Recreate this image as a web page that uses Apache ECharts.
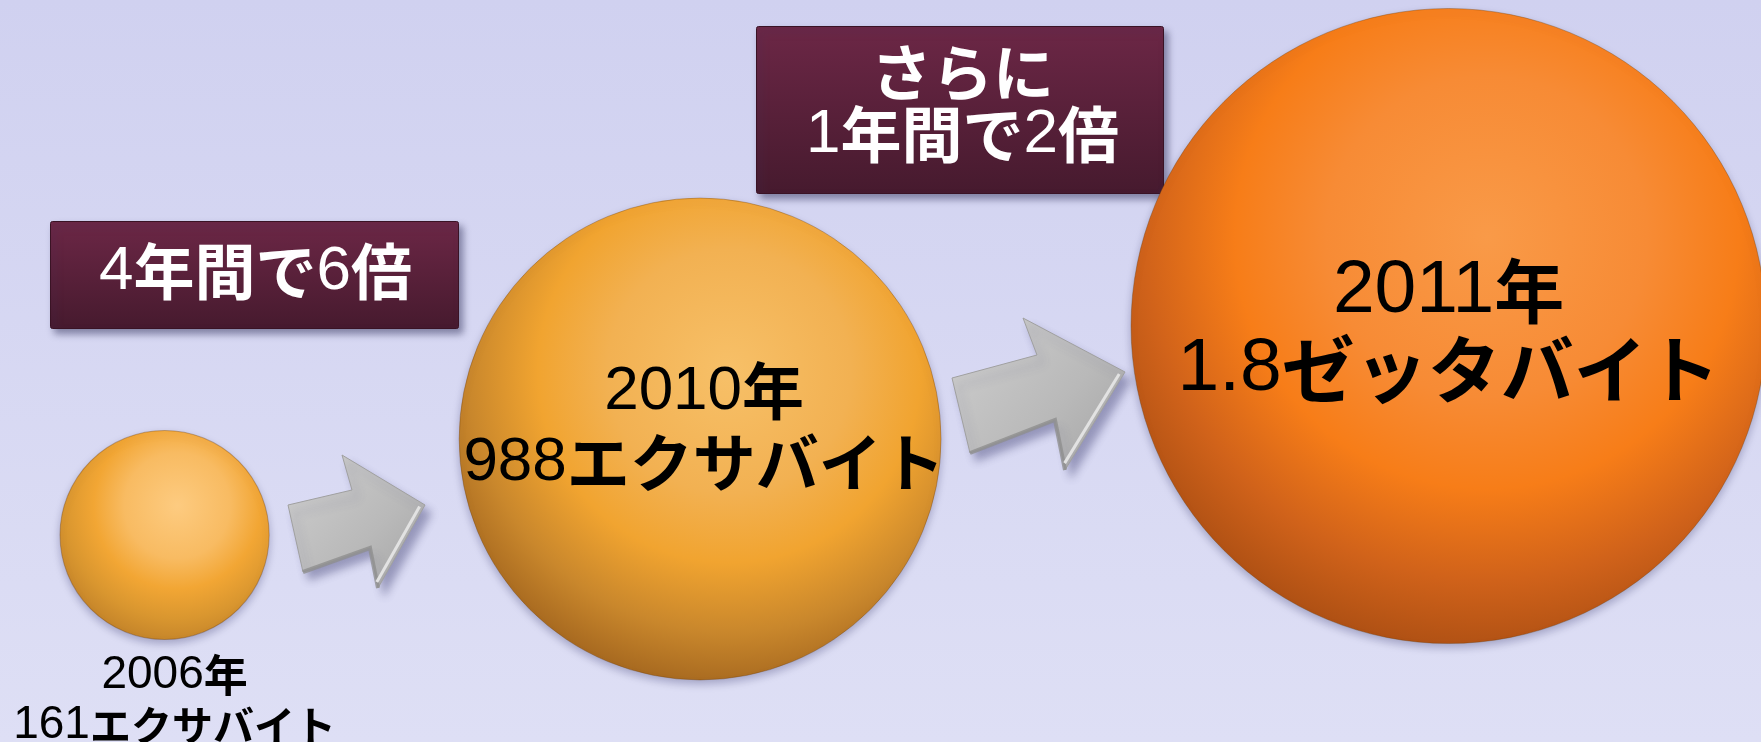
<!DOCTYPE html>
<html>
<head>
<meta charset="utf-8">
<script src="https://cdn.jsdelivr.net/npm/echarts@6/dist/echarts.min.js"></script>
<style>
  html, body { margin: 0; padding: 0; width: 1761px; height: 742px; overflow: hidden; }
  #chart { width: 1761px; height: 742px; }
</style>
</head>
<body>
<div id="chart"></div>
<script>
// Growth of the world's digital information volume
const years = ['2006', '2010', '2011'];
const volumes = [161, 988, 1800];                 // exabytes
const volumeText = ['161', '988', '1.8'];
const unitText = ['エクサバイト', 'エクサバイト', 'ゼッタバイト'];
const growthNotes = ['4年間で6倍', 'さらに\n1年間で2倍'];

const W = 1761, H = 742;
const NUM_FONT = "'Liberation Sans', Arial, sans-serif";
const JP_FONT = "'Noto Sans CJK JP', sans-serif";

// bubble diameter grows with volume (power scale)
const diameter = v => 20.2 * Math.pow(v, 0.46);

// bubbles sit in a row, separated by a fixed gap that holds the arrows
const firstLeft = 60, bubbleGap = 190;
const bubbleCenterY = [535, 439, 326];
const centerX = [];
(function () {
  let left = firstLeft;
  volumes.forEach(v => {
    const d = diameter(v);
    centerX.push(left + d / 2);
    left += d + bubbleGap;
  });
})();

const sphereStops = [
  ['#fdcb80', '#f8bb62', '#f2a634', '#d9962f', '#c5852a', '#b77a28'],
  ['#f7c068', '#f2b152', '#f1a430', '#c9872c', '#a86a20', '#985c1b'],
  ['#f99a48', '#f78b35', '#f77d18', '#d0621a', '#b05114', '#9e4710']
];
const stopOffsets = [0, 0.35, 0.55, 0.75, 0.9, 1];
const sphereFill = i => new echarts.graphic.RadialGradient(0.56, 0.36, 0.72,
  stopOffsets.map((o, k) => ({ offset: o, color: sphereStops[i][k] })));

// text styles for the three bubble labels
const labelStyles = [
  { num: 46, year: 44, kana: 41, lh: 50, position: 'bottom', distance: 10, offset: [10, 0] },
  { num: 62, year: 62, kana: 63, lh: 71, position: 'inside', distance: 0, offset: [4, -12] },
  { num: 75, year: 70, kana: 73, lh: 78, position: 'inside', distance: 0, offset: [0, 4] }
];

function bubbleLabel(i) {
  const s = labelStyles[i];
  return {
    show: true,
    position: s.position,
    distance: s.distance,
    offset: s.offset,
    align: 'center',
    formatter: '{n|' + years[i] + '}{y|年}\n{n|' + volumeText[i] + '}{k|' + unitText[i] + '}',
    rich: {
      n: { fontFamily: NUM_FONT, fontSize: s.num, color: '#000', lineHeight: s.lh },
      y: { fontFamily: JP_FONT, fontWeight: 'bold', fontSize: s.year, color: '#000', lineHeight: s.lh },
      k: { fontFamily: JP_FONT, fontWeight: 'bold', fontSize: s.kana, color: '#000', lineHeight: s.lh }
    }
  };
}

// wrap digit runs and Japanese runs in separate rich styles
function richRuns(text) {
  return text.split('\n').map(line =>
    line.split(/(\d+(?:\.\d+)?)/).filter(s => s).map(s =>
      /^\d/.test(s) ? '{d|' + s + '}' : '{c|' + s + '}').join('')
  ).join('\n');
}

const noteRich = {
  d: { fontFamily: NUM_FONT, fontSize: 62, fill: '#fff', lineHeight: 62 },
  c: { fontFamily: JP_FONT, fontWeight: 'bold', fontSize: 61, fill: '#fff', lineHeight: 62 }
};

function noteBox(note, left, top, w, h, textX, textY) {
  return {
    type: 'group',
    left: left,
    top: top,
    z: 20,
    children: [
      {
        type: 'rect',
        shape: { x: 0, y: 0, width: w, height: h, r: 2 },
        style: {
          fill: new echarts.graphic.LinearGradient(0, 0, 0, 1, [
            { offset: 0, color: '#6c2746' },
            { offset: 1, color: '#461a2e' }
          ]),
          stroke: '#3a1325',
          lineWidth: 1,
          shadowBlur: 7,
          shadowOffsetX: 4,
          shadowOffsetY: 5,
          shadowColor: 'rgba(60,60,100,0.55)'
        }
      },
      {
        type: 'text',
        x: textX,
        y: textY,
        style: {
          text: richRuns(note),
          rich: noteRich,
          align: 'center',
          verticalAlign: 'middle',
          fill: '#fff'
        }
      }
    ]
  };
}

function arrow(x0, y0, pts) {
  const [bodyTL, neckT, barbT, tip, barbB, neckB, bodyBL] = pts;
  const inset = (p, q, t) => [p[0] + (q[0] - p[0]) * t, p[1] + (q[1] - p[1]) * t];
  return {
    type: 'group',
    x: x0,
    y: y0,
    z: 1,
    children: [
      {
        type: 'polygon',
        shape: { points: pts },
        style: {
          fill: new echarts.graphic.LinearGradient(0, 0, 1, 1, [
            { offset: 0, color: '#cfcfcf' },
            { offset: 0.6, color: '#b9b9b9' },
            { offset: 1, color: '#a4a4a4' }
          ]),
          stroke: '#a0a0a0',
          lineWidth: 1,
          shadowBlur: 9,
          shadowOffsetX: 6,
          shadowOffsetY: 8,
          shadowColor: 'rgba(70,70,120,0.45)'
        }
      },
      {
        // darker lower bevel
        type: 'polyline',
        shape: { points: [bodyBL, neckB, barbB] },
        style: { stroke: '#8e8e8e', lineWidth: 4, fill: null, opacity: 0.8 }
      },
      {
        // light bevel along the head's leading edge
        type: 'polyline',
        shape: { points: [inset(tip, barbB, 0.03).map((v, k) => v - (k === 0 ? 4 : 1)), inset(barbB, tip, 0.06).map((v, k) => v - (k === 0 ? 4 : 1))] },
        style: { stroke: '#e2e2e2', lineWidth: 3, fill: null }
      }
    ]
  };
}

const chart = echarts.init(document.getElementById('chart'), null, { renderer: 'canvas' });

chart.setOption({
  backgroundColor: new echarts.graphic.LinearGradient(0, 0, 0, 1, [
    { offset: 0, color: '#d0d1f0' },
    { offset: 1, color: '#dedff5' }
  ]),
  animation: false,
  grid: { left: 0, right: 0, top: 0, bottom: 0 },
  xAxis: { type: 'value', min: 0, max: W, show: false },
  yAxis: { type: 'value', min: 0, max: H, inverse: true, show: false },
  series: [{
    type: 'scatter',
    silent: true,
    clip: false,
    z: 5,
    symbol: 'circle',
    symbolSize: v => diameter(v[2]),
    data: volumes.map((v, i) => ({
      value: [centerX[i], bubbleCenterY[i], v],
      itemStyle: {
        color: sphereFill(i),
        opacity: 1,
        borderColor: 'rgba(110,60,10,0.35)',
        borderWidth: 1,
        shadowBlur: 8,
        shadowOffsetY: 4,
        shadowColor: 'rgba(60,60,110,0.35)'
      },
      label: bubbleLabel(i)
    }))
  }],
  graphic: [
    arrow(288, 455, [[0, 50], [64, 35], [54, 0], [137, 50], [90, 133], [82, 93], [15, 117]]),
    arrow(952, 318, [[0, 60], [85, 37], [71, 0], [173, 54], [113, 152], [103, 102], [18, 135]]),
    noteBox(growthNotes[0], 50, 221, 408, 107, 205, 50),
    noteBox(growthNotes[1], 756, 26, 407, 167, 206, 77)
  ]
});
</script>
</body>
</html>
